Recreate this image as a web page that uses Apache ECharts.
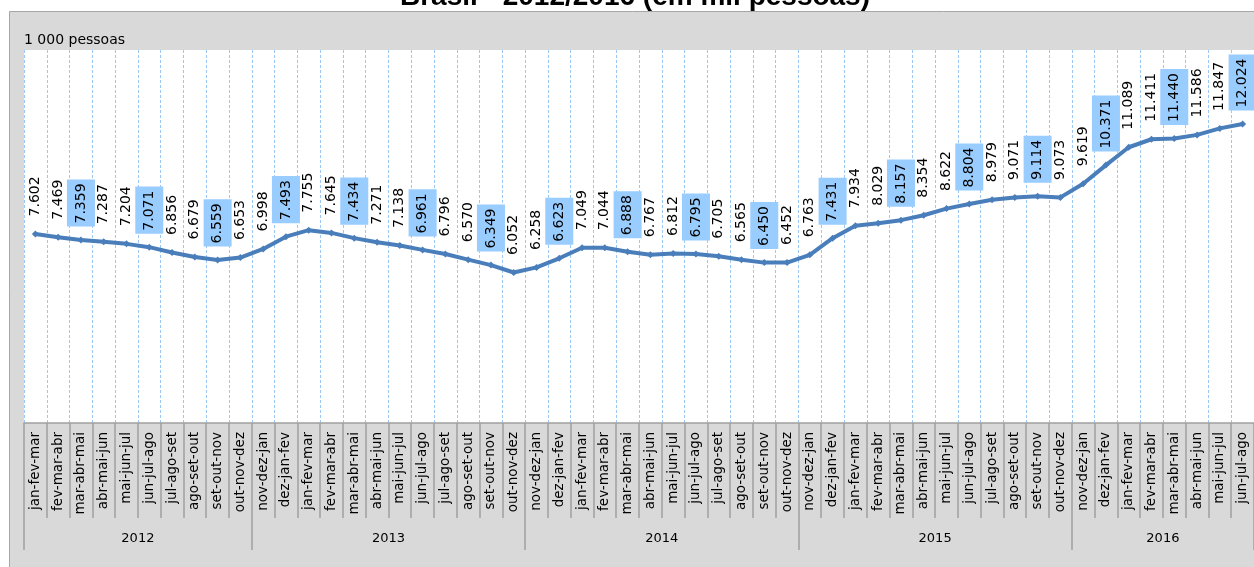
<!DOCTYPE html>
<html>
<head>
<meta charset="utf-8">
<script src="https://cdn.jsdelivr.net/npm/echarts@6/dist/echarts.min.js"></script>
<style>
  html, body { margin: 0; padding: 0; background: #fff; }
  #chart { width: 1254px; height: 567px; }
</style>
</head>
<body>
<div id="chart"></div>
<script>
// Moving-quarter labels (trimestres móveis), grouped by year
const categories = [
  'jan-fev-mar','fev-mar-abr','mar-abr-mai','abr-mai-jun','mai-jun-jul','jun-jul-ago','jul-ago-set','ago-set-out','set-out-nov','out-nov-dez',
  'nov-dez-jan','dez-jan-fev','jan-fev-mar','fev-mar-abr','mar-abr-mai','abr-mai-jun','mai-jun-jul','jun-jul-ago','jul-ago-set','ago-set-out','set-out-nov','out-nov-dez',
  'nov-dez-jan','dez-jan-fev','jan-fev-mar','fev-mar-abr','mar-abr-mai','abr-mai-jun','mai-jun-jul','jun-jul-ago','jul-ago-set','ago-set-out','set-out-nov','out-nov-dez',
  'nov-dez-jan','dez-jan-fev','jan-fev-mar','fev-mar-abr','mar-abr-mai','abr-mai-jun','mai-jun-jul','jun-jul-ago','jul-ago-set','ago-set-out','set-out-nov','out-nov-dez',
  'nov-dez-jan','dez-jan-fev','jan-fev-mar','fev-mar-abr','mar-abr-mai','abr-mai-jun','mai-jun-jul','jun-jul-ago'
];

const years = ['2012', '2013', '2014', '2015', '2016'];
const periodsPerYear = [10, 12, 12, 12, 8];

// Desocupados, em mil pessoas
const desocupados = [
  7602, 7469, 7359, 7287, 7204, 7071, 6856, 6679, 6559, 6653,
  6998, 7493, 7755, 7645, 7434, 7271, 7138, 6961, 6796, 6570, 6349, 6052,
  6258, 6623, 7049, 7044, 6888, 6767, 6812, 6795, 6705, 6565, 6450, 6452,
  6763, 7431, 7934, 8029, 8157, 8354, 8622, 8804, 8979, 9071, 9114, 9073,
  9619, 10371, 11089, 11411, 11440, 11586, 11847, 12024
];

// Quarters ending in the calendar-quarter months get a highlighted label
const highlighted = ['mar-abr-mai', 'jun-jul-ago', 'set-out-nov', 'dez-jan-fev'];

const FONT = 'DejaVu Sans';
const fmt = v => {
  const s = String(Math.round(v));
  return s.replace(/\B(?=(\d{3})+(?!\d))/g, '.');
};

// Year boundaries and centres on a 0..N scale matching the category bands
const yearEdges = [0];
periodsPerYear.forEach(n => yearEdges.push(yearEdges[yearEdges.length - 1] + n));
const yearCentres = years.map((y, i) => (yearEdges[i] + yearEdges[i + 1]) / 2);

const seriesData = desocupados.map((v, i) => {
  const hi = highlighted.includes(categories[i]);
  return {
    value: v,
    label: hi
      ? { distance: 10, backgroundColor: '#99ccff', padding: [6, 4, 6, 3] }
      : { distance: 14 }
  };
});

const chart = echarts.init(document.getElementById('chart'), null, { renderer: 'canvas' });

chart.setOption({
  animation: false,
  backgroundColor: '#ffffff',
  graphic: [
    {
      type: 'rect',
      z: -10,
      shape: { x: 9.5, y: 11.5, width: 1300, height: 600 },
      style: { fill: '#d9d9d9', stroke: '#a6a6a6', lineWidth: 1 }
    },
    {
      type: 'text',
      z: 10,
      x: 635,
      y: 11,
      style: {
        text: 'Brasil - 2012/2016 (em mil pessoas)',
        font: 'bold 28px "Liberation Sans"',
        fill: '#000',
        align: 'center',
        verticalAlign: 'bottom'
      }
    }
  ],
  grid: {
    left: 24,
    top: 50,
    width: 1232,
    height: 373,
    show: true,
    backgroundColor: '#ffffff',
    borderWidth: 0,
    containLabel: false
  },
  xAxis: [
    {
      type: 'category',
      data: categories,
      boundaryGap: true,
      position: 'bottom',
      axisLine: { show: true, lineStyle: { color: '#a0a0a0', width: 1.5 } },
      axisTick: {
        show: true,
        interval: 0,
        alignWithLabel: false,
        length: 95,
        lineStyle: { color: '#a0a0a0', width: 1.5 }
      },
      axisLabel: {
        interval: 0,
        rotate: 90,
        margin: 9,
        color: '#000',
        fontFamily: FONT,
        fontSize: 13.5
      },
      splitLine: {
        show: true,
        interval: 0,
        lineStyle: { color: '#9cc8f5', type: [3, 2], width: 1 }
      }
    },
    {
      type: 'value',
      min: 0,
      max: categories.length,
      position: 'bottom',
      offset: 0,
      axisLine: { show: false },
      axisTick: {
        show: true,
        customValues: yearEdges,
        length: 127,
        lineStyle: { color: '#a0a0a0', width: 1.5 }
      },
      axisLabel: {
        show: true,
        customValues: yearCentres,
        formatter: v => years[yearCentres.indexOf(v)] || '',
        margin: 109,
        color: '#000',
        fontFamily: FONT,
        fontSize: 13
      },
      splitLine: { show: false }
    }
  ],
  yAxis: {
    type: 'value',
    min: 0,
    max: 15000,
    name: '1 000 pessoas',
    nameLocation: 'end',
    nameGap: 3,
    nameTextStyle: {
      align: 'left',
      verticalAlign: 'bottom',
      color: '#000',
      fontFamily: FONT,
      fontSize: 14
    },
    axisLine: { show: false },
    axisTick: { show: false },
    axisLabel: { show: false },
    splitLine: { show: false }
  },
  series: [
    {
      type: 'line',
      xAxisIndex: 0,
      data: seriesData,
      symbol: 'diamond',
      symbolSize: 7,
      showSymbol: true,
      lineStyle: { color: '#4a7ebb', width: 4 },
      itemStyle: { color: '#4a7ebb' },
      label: {
        show: true,
        position: 'top',
        rotate: 90,
        align: 'left',
        verticalAlign: 'middle',
        color: '#000',
        fontFamily: FONT,
        fontSize: 14,
        lineHeight: 16,
        formatter: p => fmt(p.value)
      },
      z: 5
    }
  ]
});
</script>
</body>
</html>
